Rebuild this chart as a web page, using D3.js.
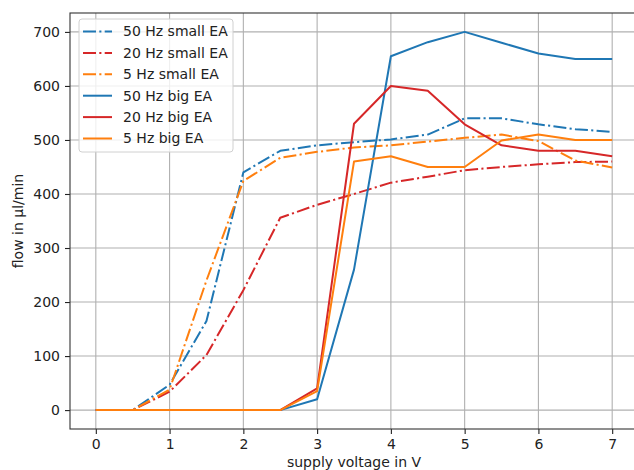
<!DOCTYPE html>
<html>
<head>
<meta charset="utf-8">
<script src="https://cdn.jsdelivr.net/npm/d3@7"></script>
<style>
  body { margin: 0; background: #fff; }
  svg { display: block; font-family: "DejaVu Sans", sans-serif; }
</style>
</head>
<body>
<svg width="634" height="470"></svg>
<script>
// data
const voltages = [0, 0.5, 1, 1.5, 2, 2.5, 3, 3.5, 4, 4.5, 5, 5.5, 6, 6.5, 7];
const small50 = [0, 0, 47, 165, 440, 480, 490, 496, 501, 510, 540, 540, 529, 520, 515];
const small20 = [0, 0, 34, 102, 222, 356, 380, 400, 421, 432, 444, 450, 455, 459, 460];
const small5 = [0, 0, 38, 240, 424, 467, 478, 486, 490, 497, 504, 510, 498, 462, 449];
const big50 = [0, 0, 0, 0, 0, 0, 20, 260, 655, 681, 700, 680, 660, 650, 650];
const big20 = [0, 0, 0, 0, 0, 0, 40, 530, 600, 591, 529, 490, 480, 480, 470];
const big5 = [0, 0, 0, 0, 0, 0, 35, 460, 470, 450, 450, 499, 510, 500, 500];
const xTicks = [0, 1, 2, 3, 4, 5, 6, 7];
const yTicks = [0, 100, 200, 300, 400, 500, 600, 700];

const blue = "#1f77b4", red = "#d62728", orange = "#ff7f0e";
const dashDot = "13,3.3,2.1,3.3";

const series = [
  {name: "50 Hz small EA", values: small50, color: blue, dash: dashDot},
  {name: "20 Hz small EA", values: small20, color: red, dash: dashDot},
  {name: "5 Hz small EA", values: small5, color: orange, dash: dashDot},
  {name: "50 Hz big EA", values: big50, color: blue, dash: null},
  {name: "20 Hz big EA", values: big20, color: red, dash: null},
  {name: "5 Hz big EA", values: big5, color: orange, dash: null}
];

const margin = {top: 13, left: 70};
const width = 568, height = 416;
const fontSize = 14;

let svg = d3.select("svg");
let g = svg.append("g").attr("transform", "translate(" + margin.left + "," + margin.top + ")");

let x = d3.scaleLinear().domain([-0.35, 7.35]).range([0, width]);
let y = d3.scaleLinear().domain([-35, 735]).range([height, 0]);

// grid
g.append("g").selectAll("line").data(xTicks).enter().append("line")
  .attr("x1", d => x(d)).attr("x2", d => x(d)).attr("y1", 0).attr("y2", height)
  .attr("stroke", "#b0b0b0").attr("stroke-width", 1.1);
g.append("g").selectAll("line").data(yTicks).enter().append("line")
  .attr("y1", d => y(d)).attr("y2", d => y(d)).attr("x1", 0).attr("x2", width)
  .attr("stroke", "#b0b0b0").attr("stroke-width", 1.1);

// lines
let line = d3.line().x((d, i) => x(voltages[i])).y(d => y(d));
series.forEach(s => {
  g.append("path").datum(s.values)
    .attr("fill", "none")
    .attr("stroke", s.color)
    .attr("stroke-width", 2)
    .attr("stroke-dasharray", s.dash)
    .attr("stroke-linejoin", "round")
    .attr("d", line);
});

// axes
let xAxis = g.append("g").attr("transform", "translate(0," + height + ")")
  .call(d3.axisBottom(x).tickValues(xTicks).tickFormat(d3.format("d")).tickSizeOuter(0).tickSize(5).tickPadding(5));
let yAxis = g.append("g")
  .call(d3.axisLeft(y).tickValues(yTicks).tickFormat(d3.format("d")).tickSizeOuter(0).tickSize(5).tickPadding(5));
[xAxis, yAxis].forEach(a => {
  a.selectAll("text").attr("font-size", fontSize).attr("fill", "#222").attr("font-family", "DejaVu Sans");
  a.selectAll("line").attr("stroke", "#222").attr("stroke-width", 1.1);
  a.select(".domain").remove();
});

// frame
g.append("rect").attr("width", width).attr("height", height)
  .attr("fill", "none").attr("stroke", "#333").attr("stroke-width", 1.1);

// axis labels
svg.append("text").attr("x", margin.left + x(3.5)).attr("y", 467)
  .attr("text-anchor", "middle").attr("font-size", fontSize).attr("fill", "#222")
  .text("supply voltage in V");
svg.append("text").attr("transform", "translate(23," + (margin.top + y(350)) + ") rotate(-90)")
  .attr("text-anchor", "middle").attr("font-size", fontSize).attr("fill", "#222")
  .text("flow in µl/min");

// legend
let legend = svg.append("g").attr("transform", "translate(79,19)");
legend.append("rect").attr("width", 154).attr("height", 133).attr("rx", 3)
  .attr("fill", "rgba(255,255,255,0.8)").attr("stroke", "#d0d0d0").attr("stroke-width", 1);
series.forEach((s, i) => {
  let row = legend.append("g").attr("transform", "translate(0," + (12.5 + i * 21.4) + ")");
  row.append("line").attr("x1", 4).attr("x2", 33).attr("y1", 0).attr("y2", 0)
    .attr("stroke", s.color).attr("stroke-width", 2).attr("stroke-dasharray", s.dash);
  row.append("text").attr("x", 44).attr("y", 0).attr("dy", "0.35em")
    .attr("font-size", fontSize).attr("fill", "#222").text(s.name);
});
</script>
</body>
</html>
